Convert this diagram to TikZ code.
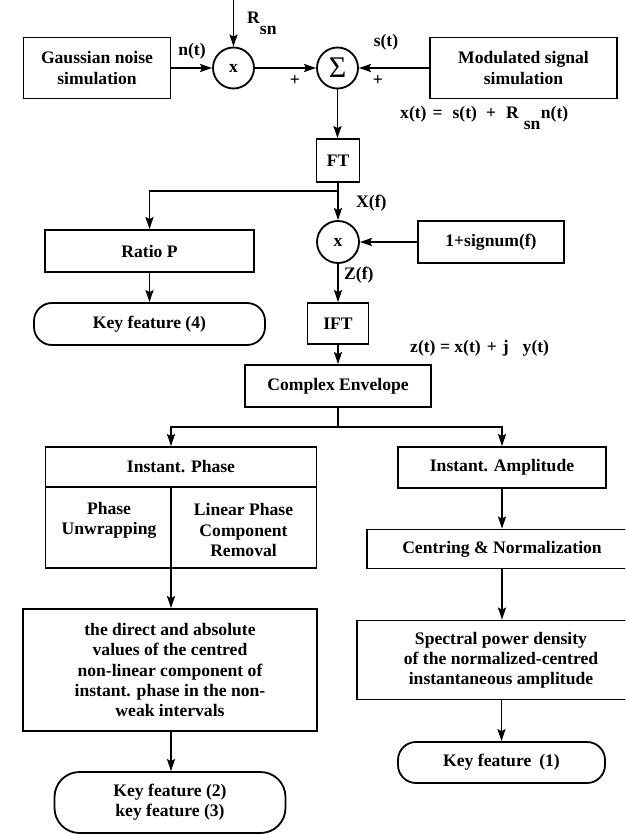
\documentclass[tikz,border=0pt]{standalone}
\usepackage{fontspec}
\setmainfont{Liberation Serif}
\usetikzlibrary{arrows.meta}
\begin{document}
\begin{tikzpicture}[x=1pt,y=-1pt,
  every node/.style={font=\bfseries\fontsize{17.6}{20.2}\selectfont},
  blk/.style={draw, line width=1.8pt, align=center, inner sep=0pt},
  rnd/.style={blk, rounded corners=18pt},
  opc/.style={draw, line width=1.8pt, circle, minimum size=41pt, inner sep=0pt},
  arr/.style={line width=1.8pt, -{Stealth[length=12pt,width=8pt,inset=2pt]}},
  ln/.style={line width=1.8pt},
  lbl/.style={inner sep=0pt}]

\fill[white] (0,0) rectangle (625,834);
\useasboundingbox (0,0) rectangle (625,834);
\clip (0,0) rectangle (625,834);

% --- signal generation ---
\node[blk, minimum width=147pt, minimum height=61pt] (gauss) at (97,68) {Gaussian noise\\simulation};
\node[opc] (mul1) at (233.5,68) {x};
\node[opc] (sum) at (337.5,68) {\fontsize{30}{30}\selectfont\mdseries Σ};
\node[blk, minimum width=187pt, minimum height=61pt] (mod) at (523.5,68) {Modulated signal\\simulation};
\coordinate (rin) at (233.5,0);
\node[lbl, anchor=base west] (rsn) at (247,24) {R\raisebox{-11pt}{sn}};
\node[lbl] (nt) at (192,51) {n(t)};
\node[lbl] (p1) at (295,81) {+};
\node[lbl] (p2) at (378,81) {+};
\node[lbl] (st) at (386,42) {s(t)};
\node[lbl, anchor=base west] (xt) at (400,119)
  {x(t)\hspace{6pt}=\hspace{10pt}s(t)\hspace{9pt}+\hspace{10pt}R\hspace{5pt}\raisebox{-11pt}{sn}\hspace{0.5pt}n(t)};

% --- analytic signal ---
\node[blk, minimum width=43pt, minimum height=43pt] (ft) at (338,160.5) {FT};
\node[lbl, anchor=west] (xf) at (356,203) {X(f)};
\node[blk, minimum width=209pt, minimum height=42pt] (ratio) at (149.5,251) {Ratio P};
\node[opc, minimum size=42pt] (mul2) at (338,242) {x};
\node[blk, minimum width=146pt, minimum height=42pt] (sig) at (491,242) {1+signum(f)};
\node[lbl, anchor=west] (zf) at (344,275) {Z(f)};
\node[rnd, minimum width=231pt, minimum height=42pt] (key4) at (149.5,324) {Key feature (4)};
\node[blk, minimum width=61pt, minimum height=41pt] (ift) at (338,323.5) {IFT};
\node[lbl, anchor=base west] (zt) at (410,352)
  {z(t) = x(t)\hspace{6pt}+\hspace{6pt}j\hspace{14pt}y(t)};
\node[blk, minimum width=186pt, minimum height=42pt] (ce) at (338,386) {Complex Envelope};

% --- phase branch ---
\node[blk, minimum width=271pt, minimum height=121pt] (phase) at (181,507.5) {};
\node[lbl] (pht) at (181,467) {Instant. Phase};
\draw[ln] ([yshift=-41pt]phase.north west) -- ([yshift=-41pt]phase.north east);
\coordinate (dv) at (171,488);
\draw[ln] (dv) -- (dv |- phase.south);
\node[lbl, align=center] (unw) at (109,520) {Phase\\Unwrapping};
\node[lbl, align=center] (lin) at (243.5,530) {Linear Phase\\Component\\Removal};
\node[blk, minimum width=294pt, minimum height=122pt] (txt) at (170,670)
  {the direct and absolute\\values of the centred\\non-linear component of\\instant. phase in the non-\\weak intervals};
\node[rnd, rounded corners=25pt, minimum width=231pt, minimum height=61pt] (key23) at (170,802.5)
  {Key feature (2)\\key feature (3)};

% --- amplitude branch ---
\node[blk, minimum width=208pt, minimum height=41pt] (amp) at (502,467.5) {Instant. Amplitude};
\node[blk, minimum width=270pt, minimum height=39pt] (cent) at (502,549) {Centring \& Normalization};
\node[blk, minimum width=288pt, minimum height=79pt] (spec) at (501,660)
  {Spectral power density\\of the normalized-centred\\instantaneous amplitude};
\node[rnd, minimum width=207pt, minimum height=41pt] (key1) at (501.5,762.5) {Key feature\hspace{8pt}(1)};

% --- connectors ---
\draw[arr] (rin) -- (mul1.north);
\draw[arr] (gauss.east |- mul1.west) -- (mul1.west);
\draw[arr] (mul1.east) -- (sum.west);
\draw[arr] (mod.west |- sum.east) -- (sum.east);
\draw[arr] (sum.south) -- (sum.south |- ft.north);
\draw[arr] (ft.south) -- (mul2.north);
\coordinate (j1) at (338,191);
\draw[arr] (j1) -| (ratio.north);
\draw[arr] (sig.west) -- (mul2.east);
\draw[arr] (mul2.south) -- (ift.north);
\draw[arr] (ratio.south) -- (key4.north);
\draw[arr] (ift.south) -- (ce.north);
\coordinate (j2) at (338,427);
\draw[ln] (ce.south) -- (j2);
\draw[arr] (j2) -| (dv |- phase.north);
\draw[arr] (j2) -| (amp.north);
\draw[arr] (amp.south) -- (cent.north);
\draw[arr] (dv |- phase.south) -- (dv |- txt.north);
\draw[arr] (dv |- txt.south) -- (dv |- key23.north);
\draw[arr] (cent.south) -- (cent.south |- spec.north);
\draw[arr] (key1.north |- spec.south) -- (key1.north);
\end{tikzpicture}
\end{document}
